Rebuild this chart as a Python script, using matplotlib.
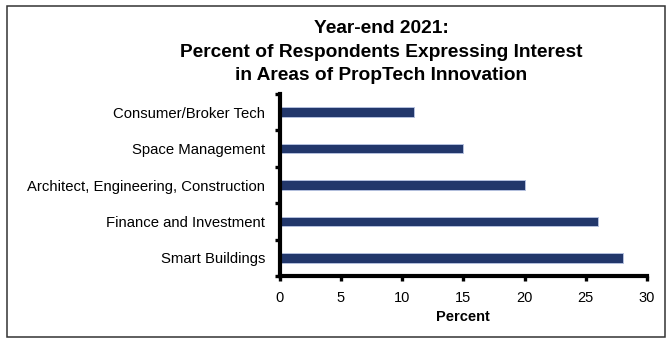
import matplotlib.pyplot as plt
from matplotlib.patches import Rectangle

plt.rcParams['font.family'] = ['Liberation Sans', 'DejaVu Sans']

# Interest by innovation area, year-end 2021
categories = ['Smart Buildings', 'Finance and Investment',
              'Architect, Engineering, Construction', 'Space Management',
              'Consumer/Broker Tech']
percent = [28, 26, 20, 15, 11]
x_ticks = [0, 5, 10, 15, 20, 25, 30]
title_lines = ['Year-end 2021:',
               'Percent of Respondents Expressing Interest',
               'in Areas of PropTech Innovation']

W, H = 672, 339
fig = plt.figure(figsize=(W / 100, H / 100), dpi=100)
ax = fig.add_axes([279.5 / W, 1 - 276 / H, (647 - 279.5) / W, (276 - 94) / H])

ypos = range(len(categories))
ax.barh(ypos, percent, height=0.26, color='#22376b',
        edgecolor='#b4c0de', linewidth=0.7)

ax.set_xlim(0, 30)
ax.set_ylim(-0.5, len(categories) - 0.5)
ax.set_xticks(x_ticks)
ax.set_xticklabels([str(t) for t in x_ticks], fontsize=10.5)

# tick marks sit on the category boundaries, names go between them
ax.set_yticks([i + 0.5 for i in range(-1, len(categories))])
ax.set_yticklabels([])
ax.set_yticks(list(ypos), minor=True)
ax.set_yticklabels(categories, minor=True, fontsize=10.7)
ax.tick_params(axis='y', which='minor', length=0, pad=10.4)
ax.tick_params(axis='y', which='major', length=3.6, width=2.4)
ax.tick_params(axis='x', length=3.6, width=2.4, pad=7)

for side in ['top', 'right']:
    ax.spines[side].set_visible(False)
for side in ['left', 'bottom']:
    ax.spines[side].set_linewidth(3)

ax.set_xlabel('Percent', fontsize=10.5, fontweight='bold', labelpad=4)

for line, base in zip(title_lines, [33, 57, 80.5]):
    fig.text(381 / W, 1 - base / H, line, ha='center', va='baseline',
             fontsize=13.75, fontweight='bold')

# frame around the whole chart
fig.patches.append(Rectangle((7 / W, 1 - 337 / H), (665 - 7) / W, (337 - 5.5) / H,
                             transform=fig.transFigure, fill=False,
                             edgecolor='#333333', linewidth=1.1))

fig.savefig('out.png', dpi=100)
